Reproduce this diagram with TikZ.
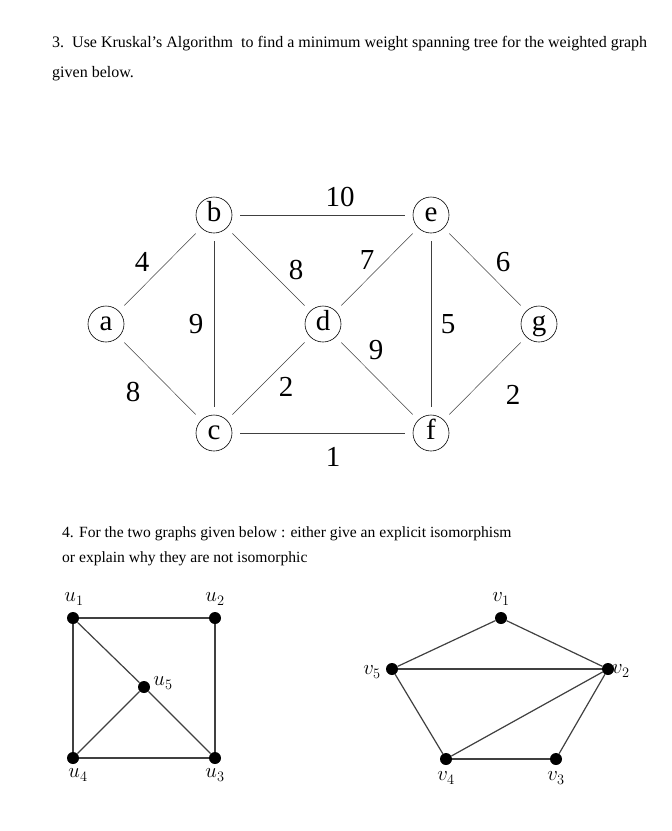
\documentclass[tikz,border=0pt]{standalone}
\usepackage{fontspec}
\setmainfont{Liberation Serif}
\usetikzlibrary{positioning}

\begin{document}
\begin{tikzpicture}[x=1pt,y=-1pt,
      vtx/.style={circle,draw=black,line width=0.6pt,minimum size=36pt,inner sep=0pt,outer sep=8pt,text height=20pt,text depth=7pt,font=\fontsize{29}{30}\selectfont},
      wt/.style={inner sep=0pt,font=\fontsize{29}{30}\selectfont},
      wedge/.style={draw=black!75,line width=0.5pt},
      dot/.style={circle,fill=black,minimum size=12pt,inner sep=0pt},
      lbl/.style={inner sep=0pt,font=\fontsize{22}{24}\selectfont},
      gedge/.style={draw=black!75,line width=1.2pt},
      hd/.style={anchor=base west,inner sep=0pt,font=\fontsize{16}{18}\selectfont}]
    \useasboundingbox (0,0) rectangle (672,831);
    % question 3
    \node[hd] (h3a) at (52,47) {3.\ \ Use Kruskal's Algorithm\ \ to find a minimum weight spanning tree for the weighted graph};
    \node[hd] (h3b) at (52,77) {given below.};
    \node[vtx] (a) at (106,324) {a};
    \node[vtx] (b) at (214,215) {b};
    \node[vtx] (c) at (214,433) {c};
    \node[vtx] (d) at (323,324) {d};
    \node[vtx] (e) at (431,215) {e};
    \node[vtx] (f) at (431,433) {f};
    \node[vtx] (g) at (539,324) {g};
    \draw[wedge] (a) -- (b);
    \draw[wedge] (a) -- (c);
    \draw[wedge] (b) -- (c);
    \draw[wedge] (b) -- (d);
    \draw[wedge] (b) -- (e);
    \draw[wedge] (c) -- (d);
    \draw[wedge] (c) -- (f);
    \draw[wedge] (d) -- (e);
    \draw[wedge] (d) -- (f);
    \draw[wedge] (e) -- (f);
    \draw[wedge] (e) -- (g);
    \draw[wedge] (f) -- (g);
    \node[wt] (wbe) at (340,197) {10};
    \node[wt] (wab) at (142,262) {4};
    \node[wt] (wbd) at (296,270) {8};
    \node[wt] (wde) at (367,260) {7};
    \node[wt] (weg) at (503,262) {6};
    \node[wt] (wbc) at (196,324) {9};
    \node[wt] (wef) at (448,324) {5};
    \node[wt] (wdf) at (376,350) {9};
    \node[wt] (wac) at (133,392) {8};
    \node[wt] (wcd) at (286,387) {2};
    \node[wt] (wfg) at (513,395) {2};
    \node[wt] (wcf) at (333,457) {1};
    % question 4
    \node[hd,font=\fontsize{15.6}{18}\selectfont] (h4a) at (62,537) {4. For the two graphs given below : either give an explicit isomorphism};
    \node[hd,font=\fontsize{15.6}{18}\selectfont] (h4b) at (62,562) {or explain why they are not isomorphic};
    \node[dot] (u1) at (73,618) {};
    \node[dot] (u2) at (215,618) {};
    \node[dot] (u3) at (215,758) {};
    \node[dot] (u4) at (73,758) {};
    \node[dot] (u5) at (144,687) {};
    \draw[gedge] (u1) -- (u2);
    \draw[gedge] (u2) -- (u3);
    \draw[gedge] (u3) -- (u4);
    \draw[gedge] (u4) -- (u1);
    \draw[gedge] (u1) -- (u5);
    \draw[gedge] (u5) -- (u3);
    \draw[gedge] (u5) -- (u4);
    \node[lbl] (lu1) at (74,599) {$u_1$};
    \node[lbl] (lu2) at (215,599) {$u_2$};
    \node[lbl] (lu3) at (215,775) {$u_3$};
    \node[lbl] (lu4) at (78,775) {$u_4$};
    \node[lbl] (lu5) at (163,683) {$u_5$};
    \node[dot] (v1) at (501,618) {};
    \node[dot] (v2) at (608,669) {};
    \node[dot] (v3) at (556,759) {};
    \node[dot] (v4) at (446,759) {};
    \node[dot] (v5) at (392,669) {};
    \draw[gedge] (v1) -- (v5);
    \draw[gedge] (v1) -- (v2);
    \draw[gedge] (v5) -- (v2);
    \draw[gedge] (v5) -- (v4);
    \draw[gedge] (v4) -- (v2);
    \draw[gedge] (v4) -- (v3);
    \draw[gedge] (v3) -- (v2);
    \node[lbl] (lv1) at (501,599) {$v_1$};
    \node[lbl] (lv3) at (556,778) {$v_3$};
    \node[lbl] (lv4) at (446,778) {$v_4$};
    \node[lbl] (lv5) at (372,672) {$v_5$};
    \begin{scope}
      \clip (600,640) rectangle (636,700);
      \node[lbl,anchor=west] (lv2) at (612,671) {$v_2$};
    \end{scope}
\end{tikzpicture}
\end{document}
